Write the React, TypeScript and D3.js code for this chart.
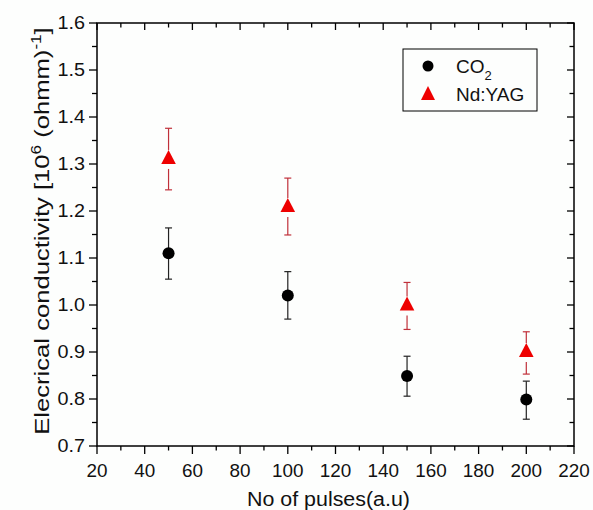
import React from "react";
import * as d3 from "d3";

const xs = [50, 100, 150, 200];
const co2 = [1.11, 1.02, 0.849, 0.799];
const co2Lo = [1.055, 0.97, 0.806, 0.757];
const co2Hi = [1.164, 1.071, 0.891, 0.838];
const yag = [1.315, 1.213, 1.003, 0.904];
const yagLo = [1.245, 1.149, 0.948, 0.853];
const yagHi = [1.376, 1.27, 1.048, 0.943];
const xTicks = [20, 40, 60, 80, 100, 120, 140, 160, 180, 200, 220];
const yTicks = [0.7, 0.8, 0.9, 1.0, 1.1, 1.2, 1.3, 1.4, 1.5, 1.6];

const W = 593, H = 510;
const L = 97, R = 574, T = 23, B = 446;
const FONT = "'Liberation Sans', Arial, sans-serif";

export default function App() {
  const x = d3.scaleLinear().domain([20, 220]).range([L, R]);
  const y = d3.scaleLinear().domain([0.7, 1.6]).range([B, T]);
  const xMinor = d3.range(30, 220, 20);
  const yMinor = d3.range(0.75, 1.6, 0.1);
  const tri = (cx: number, cy: number, s = 7.3, h = 7) =>
    `M${cx},${cy - h}L${cx + s},${cy + h}L${cx - s},${cy + h}Z`;
  const cap = 3.5;
  return (
    <svg width={W} height={H} style={{ position: "absolute", left: 0, top: 0, background: "#fdfefd" }} fontFamily={FONT}>
      <rect x={0} y={0} width={W} height={H} fill="#fdfefd" />
      <rect x={L} y={T} width={R - L} height={B - T} fill="none" stroke="#000" strokeWidth={1.5} />
      {xTicks.map((t) => (
        <g key={"xt" + t}>
          <line x1={x(t)} x2={x(t)} y1={B} y2={B + 8} stroke="#000" strokeWidth={1.3} />
          <line x1={x(t)} x2={x(t)} y1={T} y2={T + 7} stroke="#000" strokeWidth={1.3} />
          <g transform={`translate(${x(t)},477) scale(1.05,1)`}>
            <text x={0} y={0} fontSize={18} textAnchor="middle" fill="#111">{t}</text>
          </g>
        </g>
      ))}
      {xMinor.map((t) => (
        <g key={"xm" + t}>
          <line x1={x(t)} x2={x(t)} y1={B} y2={B + 4.5} stroke="#000" strokeWidth={1.3} />
          <line x1={x(t)} x2={x(t)} y1={T} y2={T + 4.5} stroke="#000" strokeWidth={1.3} />
        </g>
      ))}
      {yTicks.map((t) => (
        <g key={"yt" + t}>
          <line x1={L - 8} x2={L} y1={y(t)} y2={y(t)} stroke="#000" strokeWidth={1.3} />
          <line x1={R - 7} x2={R} y1={y(t)} y2={y(t)} stroke="#000" strokeWidth={1.3} />
          <g transform={`translate(85,${y(t)}) scale(1.1,1)`}>
            <text x={0} y={0} dy="0.35em" fontSize={18} textAnchor="end" fill="#111">{t.toFixed(1)}</text>
          </g>
        </g>
      ))}
      {yMinor.map((t) => (
        <g key={"ym" + t.toFixed(2)}>
          <line x1={L - 5} x2={L} y1={y(t)} y2={y(t)} stroke="#000" strokeWidth={1.3} />
          <line x1={R - 4.5} x2={R} y1={y(t)} y2={y(t)} stroke="#000" strokeWidth={1.3} />
        </g>
      ))}
      {xs.map((v, i) => {
        const cx = x(v);
        return (
          <g key={"c" + v}>
            <line x1={cx} x2={cx} y1={y(co2Hi[i])} y2={y(co2Lo[i])} stroke="#222" strokeWidth={1.2} />
            <line x1={cx - cap} x2={cx + cap} y1={y(co2Hi[i])} y2={y(co2Hi[i])} stroke="#222" strokeWidth={1.2} />
            <line x1={cx - cap} x2={cx + cap} y1={y(co2Lo[i])} y2={y(co2Lo[i])} stroke="#222" strokeWidth={1.2} />
            <circle cx={cx} cy={y(co2[i])} r={6} fill="#000" />
          </g>
        );
      })}
      {xs.map((v, i) => {
        const cx = x(v);
        const cy = y(yag[i]);
        return (
          <g key={"y" + v}>
            <line x1={cx} x2={cx} y1={y(yagHi[i])} y2={cy - 7} stroke="#c0303a" strokeWidth={1.2} />
            <line x1={cx} x2={cx} y1={cy + 12} y2={y(yagLo[i])} stroke="#c0303a" strokeWidth={1.2} />
            <line x1={cx - cap} x2={cx + cap} y1={y(yagHi[i])} y2={y(yagHi[i])} stroke="#c0303a" strokeWidth={1.2} />
            <line x1={cx - cap} x2={cx + cap} y1={y(yagLo[i])} y2={y(yagLo[i])} stroke="#c0303a" strokeWidth={1.2} />
            <path d={tri(cx, cy)} fill="#ee0000" />
          </g>
        );
      })}
      <rect x={403} y={49} width={134} height={62} fill="none" stroke="#000" strokeWidth={1} />
      <circle cx={428} cy={66} r={5.5} fill="#000" />
      <text x={456} y={73} fontSize={19} fill="#111">
        CO<tspan fontSize={13} dy={7}>2</tspan>
      </text>
      <path d={tri(428, 93, 7, 7)} fill="#ee0000" />
      <text x={456} y={101} fontSize={19} fill="#111">Nd:YAG</text>
      <g transform="translate(328.5,506) scale(1.07,1)">
        <text x={0} y={0} fontSize={20} textAnchor="middle" fill="#111">No of pulses(a.u)</text>
      </g>
      <g transform="translate(49,231) rotate(-90) scale(1.22,1)">
        <text x={0} y={0} fontSize={21} textAnchor="middle" fill="#111">
          Elecrical conductivity [10<tspan fontSize={14} dy={-8}>6</tspan>
          <tspan dy={8}> (ohmm)</tspan>
          <tspan fontSize={14} dy={-8}>-1</tspan>
          <tspan dy={8}>]</tspan>
        </text>
      </g>
    </svg>
  );
}
